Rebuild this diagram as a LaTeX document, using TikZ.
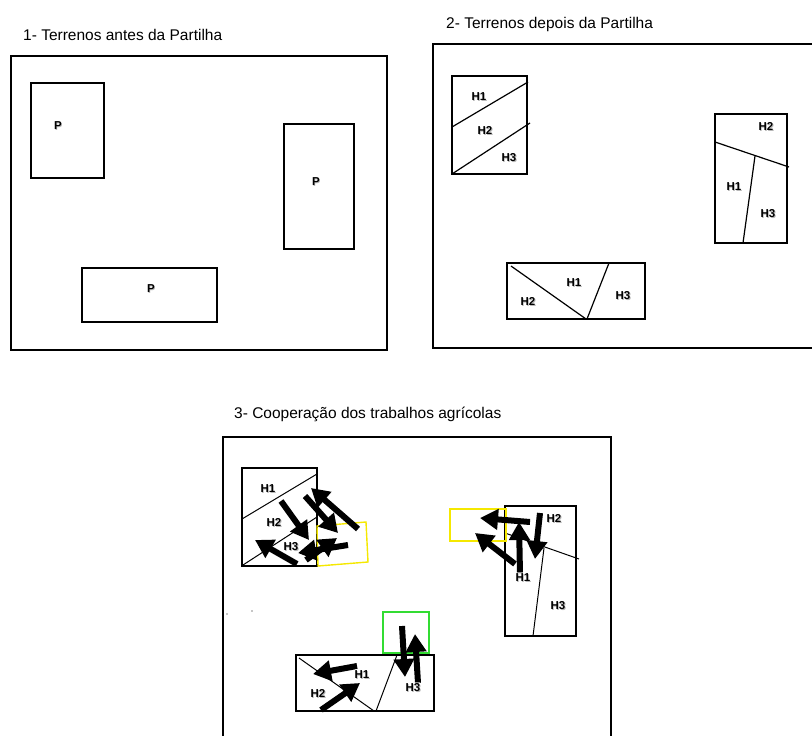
\documentclass[tikz,border=0pt]{standalone}
\usepackage{fontspec}
\setsansfont{Liberation Sans}
\usetikzlibrary{arrows.meta}

\definecolor{markyellow}{RGB}{245,232,0}
\definecolor{markgreen}{RGB}{50,220,50}

% label with a light shadow, as in the sketch
\newcommand{\shadowed}[1]{\makebox[0pt][l]{\hspace{0.8pt}\raisebox{-1.2pt}{\textcolor{black!28}{#1}}}#1}

\begin{document}
\begin{tikzpicture}[x=1pt, y=-1pt,
          every node/.style={font=\sffamily}
        ]

          % styles
          \tikzstyle{field}=[draw, line width=1.5pt]
          \tikzstyle{plot}=[draw, line width=1.4pt]
          \tikzstyle{split}=[draw, line width=1.2pt]
          \tikzstyle{title}=[anchor=west, inner sep=0pt, font=\sffamily\fontsize{15.5}{18}\selectfont]
          \tikzstyle{tag}=[inner sep=1pt, font=\sffamily\bfseries\fontsize{11.5}{13}\selectfont]
          \tikzstyle{tagbox}=[tag, fill=white, fill opacity=0.85, text opacity=1, rounded corners=1.5pt]
          \tikzstyle{fat}=[line width=6pt, -{Triangle[length=18pt, width=20pt]}]

          \useasboundingbox (0,0) rectangle (812,736);

          % 1- before
          \node[title] (t1) at (23,35) {1- Terrenos antes da Partilha};
          \draw[field] (11,56) rectangle (387,350);
          \draw[plot] (31,83) rectangle (104,178);
          \draw[plot] (284,124) rectangle (354,249);
          \draw[plot] (82,268) rectangle (217,322);
          \node[tag] (p1) at (58,126) {\shadowed{P}};
          \node[tag] (p2) at (316,182) {\shadowed{P}};
          \node[tag] (p3) at (151,289) {\shadowed{P}};

          % 2- after
          \node[title] (t2) at (446,24) {2- Terrenos depois da Partilha};
          \draw[field] (814,44) -- (433,44) -- (433,348) -- (814,348);
          \draw[plot] (452,76) rectangle (527,174);
          \draw[split] (452,127) -- (528,82);
          \draw[split] (452,174) -- (530,123);
          \node[tag] (a1) at (479,97) {\shadowed{H1}};
          \node[tag] (a2) at (485,131) {\shadowed{H2}};
          \node[tag] (a3) at (509,158) {\shadowed{H3}};

          \draw[plot] (715,114) rectangle (787,243);
          \draw[split] (715,142) -- (789,167);
          \draw[split] (755,156) -- (743,243);
          \node[tag] (b2) at (766,127) {\shadowed{H2}};
          \node[tag] (b1) at (734,187) {\shadowed{H1}};
          \node[tag] (b3) at (768,214) {\shadowed{H3}};

          \draw[plot] (507,263) rectangle (645,319);
          \draw[split] (511,266) -- (586,319);
          \draw[split] (609,263) -- (587,319);
          \node[tag] (c1) at (574,283) {\shadowed{H1}};
          \node[tag] (c2) at (528,302) {\shadowed{H2}};
          \node[tag] (c3) at (623,296) {\shadowed{H3}};

          % 3- cooperation
          \node[title] (t3) at (234,414) {3- Cooperação dos trabalhos agrícolas};
          \draw[field] (223,740) -- (223,437) -- (611,437) -- (611,740);

          \draw[plot] (242,468) rectangle (317,566);
          \draw[split, line width=1pt] (242,519) -- (317,474);
          \draw[split, line width=1pt] (243,565) -- (317,517);
          \draw[markyellow, line width=1.4pt] (317,526) -- (366,522) -- (368,562) -- (318,566) -- cycle;

          \draw[plot] (505,506) rectangle (576,636);
          \draw[split, line width=1pt] (505,533) -- (579,559);
          \draw[split, line width=1pt] (544,548) -- (533,636);
          \draw[markyellow, line width=1.4pt] (450,509) rectangle (506,541);

          \draw[markgreen, line width=1.4pt] (383,612) rectangle (429,653);
          \draw[plot] (296,655) rectangle (434,711);
          \draw[split, line width=1pt] (299,658) -- (374,711);
          \draw[split, line width=1pt] (397,655) -- (376,711);

          % stray dots
          \fill[black!45] (227,614) circle (0.9pt);
          \fill[black!45] (252,611) circle (0.9pt);

          % helping arrows
          \foreach \sx/\sy/\ex/\ey [count=\i] in {
              281/501/309/540, 358/529/311/488, 305/496/338/533,
              348/545/298/553, 306/560/337/538, 297/564/255/540,
              530/522/480/518, 515/564/475/533, 520/574/519/522,
              540/513/535/559,
              357/666/313/674, 321/710/360/683, 402/626/405/677,
              418/683/415/634} {
            \coordinate (s\i) at (\sx,\sy);
            \coordinate (e\i) at (\ex,\ey);
            \draw[fat] (s\i) -- (e\i);
          }

          \node[tag] (d1) at (268,489) {\shadowed{H1}};
          \node[tag] (d2) at (274,523) {\shadowed{H2}};
          \node[tagbox] (d3) at (291,547) {\shadowed{H3}};
          \node[tag] (f2) at (554,519) {\shadowed{H2}};
          \node[tagbox] (f1) at (523,578) {\shadowed{H1}};
          \node[tag] (f3) at (558,606) {\shadowed{H3}};
          \node[tagbox] (g1) at (362,675) {\shadowed{H1}};
          \node[tag] (g2) at (318,694) {\shadowed{H2}};
          \node[tagbox] (g3) at (413,688) {\shadowed{H3}};

        \end{tikzpicture}
\end{document}
